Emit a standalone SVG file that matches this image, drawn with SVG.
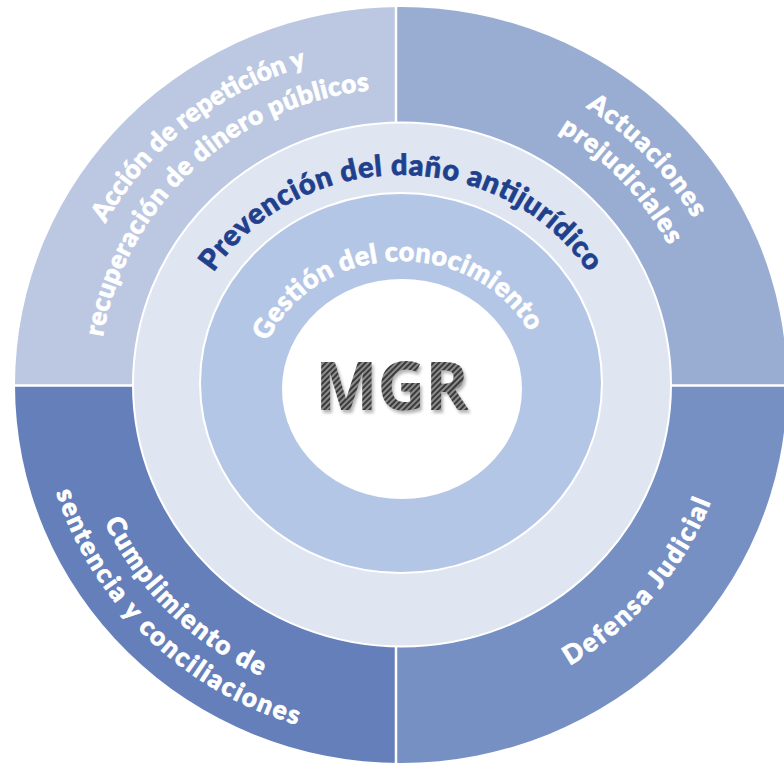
<svg xmlns="http://www.w3.org/2000/svg" width="784" height="764" viewBox="0 0 784 764">
<defs>
<style>
.lbl{font-family:Lato,"Open Sans","DejaVu Sans",sans-serif;font-weight:900;}
.out{fill:#ffffff;stroke:#ffffff;stroke-width:0.8;font-size:26px;}
.prev{fill:#1F408C;stroke:#1F408C;stroke-width:0.7;font-size:29px;}
.gest{fill:#ffffff;stroke:#ffffff;stroke-width:0.7;font-size:27px;}
.div{stroke:#ffffff;stroke-width:2.5;fill:none;}
.mgr{font-family:"Open Sans","Noto Sans","DejaVu Sans",sans-serif;font-weight:700;font-size:66px;}
</style>
<clipPath id="outerClip"><ellipse cx="401" cy="385" rx="386" ry="378"/></clipPath>
<pattern id="carbon" width="4" height="4" patternUnits="userSpaceOnUse" patternTransform="rotate(-45)">
<rect width="4" height="4" fill="#3a3a3a"/>
<rect width="4" height="2" fill="#8c8c8c"/>
</pattern>
<filter id="soft" x="-10%" y="-10%" width="120%" height="130%"><feGaussianBlur stdDeviation="1.8"/></filter>
<path id="pPrev" d="M179 385 A222 210 0 0 1 623 385"/>
<path id="pGest" d="M258 389 A143 128 0 0 1 544 389"/>
<path id="pTL1" d="M120.8 570.6 A338 332 0 0 1 644.3 154.4"/>
<path id="pTL2" d="M165.3 570.1 A302 296 0 0 1 600.3 162.6"/>
<path id="pTR1" d="M192.9 123.4 A338 332 0 0 1 652.2 607.1"/>
<path id="pTR2" d="M215.3 150.3 A303 297 0 0 1 625.5 584.5"/>
<path id="pBL1" d="M151.6 175.9 A328 322 0 0 0 609.6 633.5"/>
<path id="pBL2" d="M123.7 156.8 A362 355 0 0 0 633.7 656.9"/>
<path id="pBR" d="M211.5 652.7 A332 326 0 0 0 634.9 153.7"/>
</defs>

<g id="node-accion">
<rect x="0" y="0" width="396" height="385.5" fill="#BCC8E1" clip-path="url(#outerClip)"/>
<text class="lbl out"><textPath href="#pTL1" startOffset="50%" text-anchor="middle" textLength="262" lengthAdjust="spacing">Acción de repetición y</textPath></text>
<text class="lbl out"><textPath href="#pTL2" startOffset="50%" text-anchor="middle" textLength="390" lengthAdjust="spacing">recuperación de dinero públicos</textPath></text>
</g>

<g id="node-actuaciones">
<rect x="396" y="0" width="388" height="385.5" fill="#99ADD3" clip-path="url(#outerClip)"/>
<text class="lbl out"><textPath href="#pTR1" startOffset="50%" text-anchor="middle" textLength="156" lengthAdjust="spacing">Actuaciones</textPath></text>
<text class="lbl out"><textPath href="#pTR2" startOffset="50%" text-anchor="middle" textLength="160" lengthAdjust="spacing">prejudiciales</textPath></text>
</g>

<g id="node-cumplimiento">
<rect x="0" y="385.5" width="396" height="378.5" fill="#647FBA" clip-path="url(#outerClip)"/>
<text class="lbl out"><textPath href="#pBL1" startOffset="50%" text-anchor="middle" textLength="224" lengthAdjust="spacing">Cumplimiento de</textPath></text>
<text class="lbl out"><textPath href="#pBL2" startOffset="50%" text-anchor="middle" textLength="348" lengthAdjust="spacing">sentencia y conciliaciones</textPath></text>
</g>

<g id="node-defensa">
<rect x="396" y="385.5" width="388" height="378.5" fill="#7690C3" clip-path="url(#outerClip)"/>
<text class="lbl out"><textPath href="#pBR" startOffset="50%" text-anchor="middle" textLength="220" lengthAdjust="spacing">Defensa Judicial</textPath></text>
</g>

<g id="connectors">
<line class="div" x1="396" y1="0" x2="396" y2="764"/>
<line class="div" x1="0" y1="385.5" x2="784" y2="385.5"/>
</g>

<g id="node-prevencion">
<ellipse cx="402" cy="384.5" rx="269" ry="262" fill="#E0E6F1" stroke="#ffffff" stroke-width="2"/>
<text class="lbl prev"><textPath href="#pPrev" startOffset="50%" text-anchor="middle" textLength="440" lengthAdjust="spacing">Prevención del daño antijurídico</textPath></text>
</g>

<g id="node-gestion">
<ellipse cx="401" cy="383" rx="201" ry="190" fill="#B4C6E6" stroke="#ffffff" stroke-width="2"/>
<text class="lbl gest"><textPath href="#pGest" startOffset="48.7%" text-anchor="middle" textLength="318" lengthAdjust="spacing">Gestión del conocimiento</textPath></text>
</g>

<g id="node-mgr">
<ellipse cx="402" cy="389" rx="120" ry="110" fill="#ffffff"/>
<text class="mgr" x="394" y="413" text-anchor="middle" fill="#9a9a9a" opacity="0.7" filter="url(#soft)">MGR</text>
<text class="mgr" x="392" y="410" text-anchor="middle" fill="url(#carbon)">MGR</text>
</g>
</svg>
